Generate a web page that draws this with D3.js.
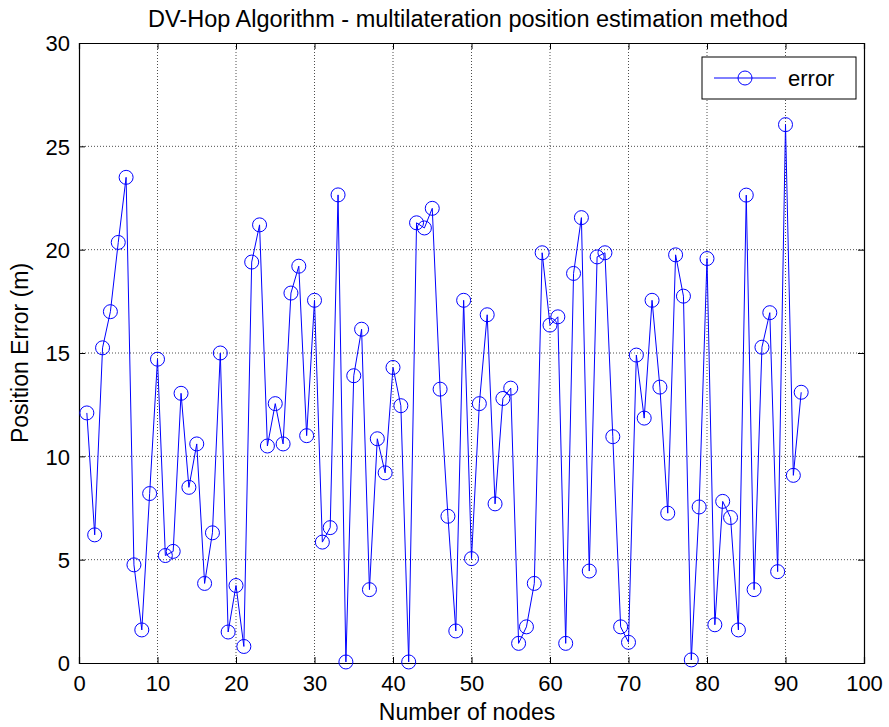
<!DOCTYPE html>
<html><head><meta charset="utf-8">
<script src="https://cdn.jsdelivr.net/npm/d3@7"></script>
<style>body{margin:0;background:#fff}svg{display:block}text{font-family:"Liberation Sans",Arial,sans-serif}</style>
</head><body><svg id="c" width="889" height="727"></svg>
<script>
const nodes = d3.range(1, 93);
const errorValues = [12.1,6.2,15.25,17.0,20.35,23.5,4.75,1.6,8.2,14.7,
5.2,5.4,13.05,8.5,10.6,3.85,6.3,15.0,1.5,3.75,
0.8,19.4,21.2,10.5,12.55,10.6,17.9,19.2,11.0,17.55,
5.85,6.55,22.65,0.05,13.9,16.15,3.55,10.85,9.2,14.3,
12.45,0.05,21.3,21.05,22.0,13.25,7.1,1.55,17.55,5.05,
12.55,16.85,7.7,12.8,13.3,0.95,1.75,3.85,19.85,16.35,
16.75,0.95,18.85,21.55,4.45,19.65,19.85,10.95,1.75,1.0,
14.9,11.85,17.55,13.35,7.25,19.75,17.75,0.15,7.55,19.57,
1.85,7.82,7.04,1.6,22.64,3.55,15.28,16.95,4.42,26.05,
9.08,13.1];
const xTicks = [0,10,20,30,40,50,60,70,80,90,100];
const yTicks = [0,5,10,15,20,25,30];
const title = "DV-Hop Algorithm - multilateration position estimation method";
const xLabel = "Number of nodes";
const yLabel = "Position Error (m)";
const legendLabel = "error";

const L=79, R=864, T=43, B=663;
const svg = d3.select("#c");
const x = d3.scaleLinear().domain([0,100]).range([L,R]);
const y = d3.scaleLinear().domain([0,30]).range([B,T]);

// grid
const g = svg.append("g");
g.selectAll(".vx").data(xTicks.slice(1,-1)).enter().append("line")
 .attr("x1",d=>x(d)).attr("x2",d=>x(d)).attr("y1",T).attr("y2",B)
 .attr("stroke","#000").attr("stroke-width",0.7).attr("stroke-dasharray","1,2");
g.selectAll(".hy").data(yTicks.slice(1,-1)).enter().append("line")
 .attr("y1",d=>y(d)).attr("y2",d=>y(d)).attr("x1",L).attr("x2",R)
 .attr("stroke","#000").attr("stroke-width",0.7).attr("stroke-dasharray","1,2");

// axes
const fs = "22px";
const xb = svg.append("g").attr("transform",`translate(0,${B})`)
 .call(d3.axisBottom(x).tickValues(xTicks).tickSize(-6).tickPadding(12));
const xt = svg.append("g").attr("transform",`translate(0,${T})`)
 .call(d3.axisTop(x).tickValues(xTicks).tickSize(-6).tickFormat(""));
const yl = svg.append("g").attr("transform",`translate(${L},0)`)
 .call(d3.axisLeft(y).tickValues(yTicks).tickSize(-6).tickPadding(9));
const yr = svg.append("g").attr("transform",`translate(${R},0)`)
 .call(d3.axisRight(y).tickValues(yTicks).tickSize(-6).tickFormat(""));
[xb,xt,yl,yr].forEach(a=>{
  a.select(".domain").attr("stroke","#000").attr("stroke-width",1.2);
  a.selectAll(".tick line").attr("stroke","#000");
  a.selectAll("text").attr("font-size",fs).attr("fill","#000").attr("font-family","Liberation Sans, Arial, sans-serif");
});
xb.selectAll("text").attr("dy","0.71em");
yl.selectAll("text").attr("dy","0.35em");

// line + markers
const data = nodes.map((n,i)=>({n, v:errorValues[i]}));
svg.append("path").datum(data)
 .attr("d", d3.line().x(d=>x(d.n)).y(d=>y(d.v)))
 .attr("fill","none").attr("stroke","#0000ff").attr("stroke-width",1);
svg.selectAll(".m").data(data).enter().append("ellipse")
 .attr("cx",d=>x(d.n)).attr("cy",d=>y(d.v)).attr("rx",7).attr("ry",7)
 .attr("fill","none").attr("stroke","#0000ff").attr("stroke-width",1);

// labels
svg.append("text").attr("x",468).attr("y",27).attr("text-anchor","middle")
 .attr("font-size","23.5px").text(title);
svg.append("text").attr("x",467).attr("y",720).attr("text-anchor","middle")
 .attr("font-size","23px").text(xLabel);
svg.append("text").attr("transform",`translate(28,${(T+B)/2}) rotate(-90)`).attr("text-anchor","middle")
 .attr("font-size","23px").text(yLabel);

// legend
const lg = svg.append("g");
lg.append("rect").attr("x",702).attr("y",57).attr("width",154).attr("height",42)
 .attr("fill","#fff").attr("stroke","#000").attr("stroke-width",1);
lg.append("line").attr("x1",714).attr("x2",776).attr("y1",78).attr("y2",78)
 .attr("stroke","#0000ff").attr("stroke-width",1);
lg.append("ellipse").attr("cx",745).attr("cy",78).attr("rx",7).attr("ry",7)
 .attr("fill","none").attr("stroke","#0000ff");
lg.append("text").attr("x",788).attr("y",86).attr("font-size","22px").text(legendLabel);
</script></body></html>
